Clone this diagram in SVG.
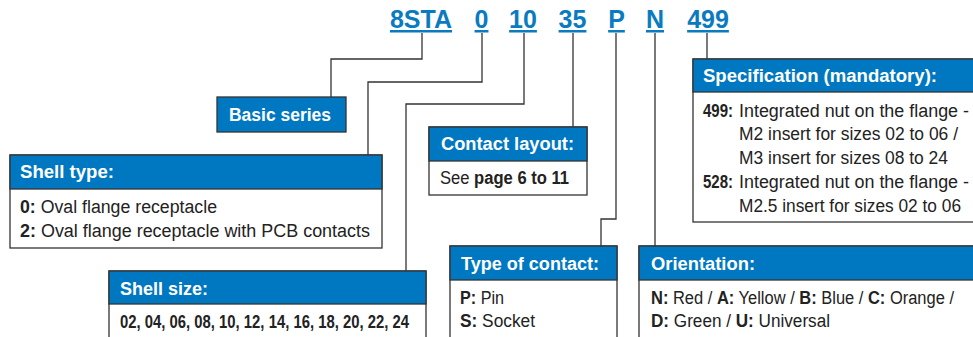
<svg xmlns="http://www.w3.org/2000/svg" width="973" height="337" viewBox="0 0 973 337">
<style>
.code{font-family:"Liberation Sans",Arial,sans-serif;font-weight:bold;font-size:25px;fill:#0a7bc1;text-decoration:underline;text-anchor:middle}
.box{fill:#fff;stroke:#333;stroke-width:1.3}
.hdr{fill:#0078c1;stroke:#333;stroke-width:1.3}
.ht{font-family:"Liberation Sans",Arial,sans-serif;font-weight:bold;font-size:18px;fill:#fff}
.bt{font-family:"Liberation Sans",Arial,sans-serif;font-size:18px;fill:#222}
.b{font-weight:bold}
.conn{fill:none;stroke:#333;stroke-width:1.3}
</style>
<g id="codes">
<text class="code" x="421" y="28">8STA</text>
<text class="code" x="481.5" y="28">0</text>
<text class="code" x="523" y="28">10</text>
<text class="code" x="572.5" y="28">35</text>
<text class="code" x="616.5" y="28">P</text>
<text class="code" x="655" y="28">N</text>
<text class="code" x="708" y="28">499</text>
</g>
<g id="connectors">
<path class="conn" d="M422 33V59H331V97"/>
<path class="conn" d="M482 33V82H368V155"/>
<path class="conn" d="M524 33V104H406V271"/>
<path class="conn" d="M573 33V127"/>
<path class="conn" d="M616 33V219H601V246"/>
<path class="conn" d="M655 33V246"/>
<path class="conn" d="M707 33V59"/>
</g>
<g id="basic-series">
<rect class="hdr" x="217" y="97" width="129" height="35"/>
<text class="ht" x="229" y="121" textLength="102" lengthAdjust="spacingAndGlyphs">Basic series</text>
</g>
<g id="shell-type">
<rect class="box" x="10" y="155" width="372" height="93"/>
<rect class="hdr" x="10" y="155" width="372" height="34"/>
<text class="ht" x="20" y="178" textLength="94" lengthAdjust="spacingAndGlyphs">Shell type:</text>
<text class="bt" x="20" y="213" textLength="197" lengthAdjust="spacingAndGlyphs"><tspan class="b">0:</tspan> Oval flange receptacle</text>
<text class="bt" x="20" y="237" textLength="350" lengthAdjust="spacingAndGlyphs"><tspan class="b">2:</tspan> Oval flange receptacle with PCB contacts</text>
</g>
<g id="shell-size">
<rect class="box" x="109" y="271" width="317" height="80"/>
<rect class="hdr" x="109" y="271" width="317" height="33"/>
<text class="ht" x="120" y="295" textLength="88" lengthAdjust="spacingAndGlyphs">Shell size:</text>
<text class="bt b" x="120" y="328" textLength="289" lengthAdjust="spacingAndGlyphs">02, 04, 06, 08, 10, 12, 14, 16, 18, 20, 22, 24</text>
</g>
<g id="contact-layout">
<rect class="box" x="429" y="127" width="158" height="68"/>
<rect class="hdr" x="429" y="127" width="158" height="34"/>
<text class="ht" x="441" y="150" textLength="133" lengthAdjust="spacingAndGlyphs">Contact layout:</text>
<text class="bt" x="440" y="184" textLength="129" lengthAdjust="spacingAndGlyphs">See <tspan class="b">page 6 to 11</tspan></text>
</g>
<g id="type-of-contact">
<rect class="box" x="450" y="246" width="167" height="100"/>
<rect class="hdr" x="450" y="246" width="167" height="34"/>
<text class="ht" x="461" y="270" textLength="138" lengthAdjust="spacingAndGlyphs">Type of contact:</text>
<text class="bt" x="460" y="304" textLength="44" lengthAdjust="spacingAndGlyphs"><tspan class="b">P:</tspan> Pin</text>
<text class="bt" x="460" y="327" textLength="75" lengthAdjust="spacingAndGlyphs"><tspan class="b">S:</tspan> Socket</text>
</g>
<g id="orientation">
<rect class="box" x="639" y="246" width="345" height="100"/>
<rect class="hdr" x="639" y="246" width="345" height="34"/>
<text class="ht" x="651" y="270" textLength="104" lengthAdjust="spacingAndGlyphs">Orientation:</text>
<text class="bt" x="651" y="304" textLength="303" lengthAdjust="spacingAndGlyphs"><tspan class="b">N:</tspan> Red / <tspan class="b">A:</tspan> Yellow / <tspan class="b">B:</tspan> Blue / <tspan class="b">C:</tspan> Orange /</text>
<text class="bt" x="651" y="327" textLength="179" lengthAdjust="spacingAndGlyphs"><tspan class="b">D:</tspan> Green / <tspan class="b">U:</tspan> Universal</text>
</g>
<g id="specification">
<rect class="box" x="693" y="59" width="290" height="163"/>
<rect class="hdr" x="693" y="59" width="290" height="33"/>
<text class="ht" x="703" y="82" textLength="234" lengthAdjust="spacingAndGlyphs">Specification (mandatory):</text>
<text class="bt b" x="703" y="117" textLength="30" lengthAdjust="spacingAndGlyphs">499:</text>
<text class="bt" x="739" y="117" textLength="230" lengthAdjust="spacingAndGlyphs">Integrated nut on the flange -</text>
<text class="bt" x="739" y="140" textLength="219" lengthAdjust="spacingAndGlyphs">M2 insert for sizes 02 to 06 /</text>
<text class="bt" x="739" y="164" textLength="209" lengthAdjust="spacingAndGlyphs">M3 insert for sizes 08 to 24</text>
<text class="bt b" x="703" y="188" textLength="30" lengthAdjust="spacingAndGlyphs">528:</text>
<text class="bt" x="739" y="188" textLength="230" lengthAdjust="spacingAndGlyphs">Integrated nut on the flange -</text>
<text class="bt" x="739" y="212" textLength="222" lengthAdjust="spacingAndGlyphs">M2.5 insert for sizes 02 to 06</text>
</g>
</svg>
